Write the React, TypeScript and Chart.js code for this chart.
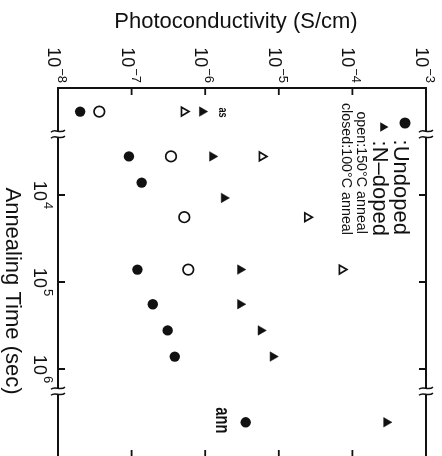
import React, { useEffect, useRef } from 'react';
import { Chart, registerables } from 'chart.js';

Chart.register(...registerables);

// Axis ticks (exponents of 10)
const sigmaTickExponents = [-8, -7, -6, -5, -4, -3];
const timeTickExponents = [4, 5, 6];

// Broken time axis: positions of the as-deposited and post-anneal groups, and the breaks
const AS_DEPOSITED_T = 1.1e3;
const ANNEALED_T = 4.1e6;
const BREAK_LOW_T = 2.0e3;
const BREAK_HIGH_T = 1.8e6;
const TIME_MIN = 589;
const TIME_MAX = 1e7;
const SIGMA_MIN = 1e-8;
const SIGMA_MAX = 1e-3;

// Undoped, closed symbols: 100°C anneal
const undopedClosedTime = [AS_DEPOSITED_T, 3600, 7200, 72000, 180000, 360000, 720000, ANNEALED_T];
const undopedClosedSigma = [2.0e-8, 9.2e-8, 1.37e-7, 1.2e-7, 1.94e-7, 3.09e-7, 3.86e-7, 3.55e-6];
// Undoped, open symbols: 150°C anneal
const undopedOpenTime = [AS_DEPOSITED_T, 3600, 18000, 72000];
const undopedOpenSigma = [3.64e-8, 3.43e-7, 5.2e-7, 5.89e-7];
// N-doped, closed symbols: 100°C anneal
const nDopedClosedTime = [AS_DEPOSITED_T, 3600, 10800, 72000, 180000, 360000, 720000, ANNEALED_T];
const nDopedClosedSigma = [9.1e-7, 1.25e-6, 1.8e-6, 3.0e-6, 3.0e-6, 5.7e-6, 8.3e-6, 2.9e-4];
// N-doped, open symbols: 150°C anneal
const nDopedOpenTime = [AS_DEPOSITED_T, 3600, 18000, 72000];
const nDopedOpenSigma = [5.15e-7, 5.9e-6, 2.44e-5, 7.2e-5];

const FONT = '"Liberation Sans", Arial, Helvetica, sans-serif';
const INK = '#111';

function pts(times: number[], sigmas: number[]) {
  return times.map((t, i) => ({ x: sigmas[i], y: t }));
}

function drawRot(ctx: CanvasRenderingContext2D, text: string, x: number, y: number, font: string, align: CanvasTextAlign, sx = 1) {
  ctx.save();
  ctx.translate(x, y);
  ctx.rotate(Math.PI / 2);
  ctx.scale(sx, 1);
  ctx.font = font;
  ctx.textAlign = align;
  ctx.textBaseline = 'alphabetic';
  ctx.fillText(text, 0, 0);
  ctx.restore();
}

function drawPow(ctx: CanvasRenderingContext2D, x: number, y: number, exp: number, anchor: 'end' | 'center') {
  ctx.save();
  ctx.translate(x, y);
  ctx.rotate(Math.PI / 2);
  const base = '10';
  const expStr = exp < 0 ? '\u2212' + Math.abs(exp) : String(exp);
  const mainFont = `18px ${FONT}`;
  const supFont = `13px ${FONT}`;
  ctx.font = mainFont;
  const w1 = ctx.measureText(base).width;
  ctx.font = supFont;
  const w2 = ctx.measureText(expStr).width;
  const gap = 1;
  const total = w1 + gap + w2;
  const x0 = anchor === 'end' ? -total : -total / 2;
  ctx.textAlign = 'left';
  ctx.textBaseline = 'alphabetic';
  ctx.font = mainFont;
  ctx.fillText(base, x0, 0);
  ctx.font = supFont;
  ctx.fillText(expStr, x0 + w1 + gap, -10);
  ctx.restore();
}

function drawBreak(ctx: CanvasRenderingContext2D, x: number, y: number) {
  ctx.save();
  ctx.fillStyle = '#fff';
  ctx.fillRect(x - 3, y - 3, 6, 6);
  ctx.strokeStyle = INK;
  ctx.lineWidth = 1.5;
  for (const off of [-3, 3]) {
    ctx.beginPath();
    ctx.moveTo(x - 7, y + off + 1);
    ctx.bezierCurveTo(x - 3, y + off - 3, x + 2, y + off + 3, x + 7, y + off - 1);
    ctx.stroke();
  }
  ctx.restore();
}

const overlay = {
  id: 'overlay',
  beforeDraw(chart: any) {
    const ctx = chart.ctx as CanvasRenderingContext2D;
    ctx.save();
    ctx.fillStyle = '#fff';
    ctx.fillRect(0, 0, chart.width, chart.height);
    ctx.restore();
  },
  afterDraw(chart: any) {
    const ctx = chart.ctx as CanvasRenderingContext2D;
    const ca = chart.chartArea;
    const xs = chart.scales.x;
    const ys = chart.scales.y;
    const L = ca.left, R = ca.right, T = ca.top, B = ca.bottom + 2;
    ctx.save();
    ctx.strokeStyle = INK;
    ctx.fillStyle = INK;
    ctx.lineWidth = 2;
    // frame
    ctx.beginPath();
    ctx.moveTo(L, B);
    ctx.lineTo(L, T);
    ctx.lineTo(R, T);
    ctx.lineTo(R, B);
    ctx.lineTo(L, B);
    ctx.stroke();
    // inward ticks along photoconductivity axis (top & bottom)
    ctx.lineWidth = 1.8;
    for (const e of sigmaTickExponents) {
      if (e === -8 || e === -3) continue;
      const px = xs.getPixelForValue(Math.pow(10, e));
      ctx.beginPath();
      ctx.moveTo(px, T);
      ctx.lineTo(px, T + 7);
      ctx.moveTo(px, B);
      ctx.lineTo(px, B - 8);
      ctx.stroke();
    }
    // inward ticks along time axis (left & right)
    for (const e of timeTickExponents) {
      const py = ys.getPixelForValue(Math.pow(10, e));
      ctx.beginPath();
      ctx.moveTo(L, py);
      ctx.lineTo(L + 7, py);
      ctx.moveTo(R, py);
      ctx.lineTo(R - 7, py);
      ctx.stroke();
    }
    // axis breaks
    for (const b of [BREAK_LOW_T, BREAK_HIGH_T]) {
      const py = ys.getPixelForValue(b);
      drawBreak(ctx, L, py);
      drawBreak(ctx, R, py);
    }
    // photoconductivity tick labels
    for (const e of sigmaTickExponents) {
      const px = xs.getPixelForValue(Math.pow(10, e));
      drawPow(ctx, px - 10, T - 5, e, 'end');
    }
    // time tick labels
    for (const e of timeTickExponents) {
      const py = ys.getPixelForValue(Math.pow(10, e));
      drawPow(ctx, L - 24, py, e, 'center');
    }
    // axis titles
    ctx.font = `22px ${FONT}`;
    ctx.textAlign = 'center';
    ctx.textBaseline = 'alphabetic';
    ctx.fillText('Photoconductivity (S/cm)', 236, 28);
    drawRot(ctx, 'Annealing Time (sec)', 6, 291, `22px ${FONT}`, 'center');
    // group annotations
    const asY = ys.getPixelForValue(AS_DEPOSITED_T);
    const annY = ys.getPixelForValue(ANNEALED_T);
    drawRot(ctx, 'as', 219, asY + 1, `bold 13px ${FONT}`, 'center', 0.7);
    drawRot(ctx, 'ann', 215.5, annY - 2, `bold 21px ${FONT}`, 'center', 0.7);
    // legend
    ctx.beginPath();
    ctx.arc(405, 123, 5.5, 0, Math.PI * 2);
    ctx.fill();
    ctx.beginPath();
    const tx = 383, ty = 127, tr = 5.5;
    ctx.moveTo(tx + tr, ty);
    ctx.lineTo(tx - tr / 2, ty - tr * 0.866);
    ctx.lineTo(tx - tr / 2, ty + tr * 0.866);
    ctx.closePath();
    ctx.fill();
    drawRot(ctx, ':Undoped', 394, 235, `22px ${FONT}`, 'right');
    drawRot(ctx, ':N\u2013doped', 373, 236, `22px ${FONT}`, 'right');
    drawRot(ctx, 'open:150\u00B0C anneal', 357, 234, `14.3px ${FONT}`, 'right');
    drawRot(ctx, 'closed:100\u00B0C anneal', 342, 235, `14.3px ${FONT}`, 'right');
    ctx.restore();
  },
};

export default function App() {
  const canvasRef = useRef<HTMLCanvasElement | null>(null);

  useEffect(() => {
    const canvas = canvasRef.current;
    if (!canvas) return;
    const chart = new Chart(canvas, {
      type: 'scatter',
      data: {
        datasets: [
          {
            label: 'Undoped, 100°C anneal',
            data: pts(undopedClosedTime, undopedClosedSigma),
            pointStyle: 'circle',
            pointRadius: 5.2,
            backgroundColor: INK,
            borderColor: INK,
            borderWidth: 0,
          },
          {
            label: 'Undoped, 150°C anneal',
            data: pts(undopedOpenTime, undopedOpenSigma),
            pointStyle: 'circle',
            pointRadius: 5.3,
            backgroundColor: '#fff',
            borderColor: INK,
            borderWidth: 1.7,
          },
          {
            label: 'N-doped, 100°C anneal',
            data: pts(nDopedClosedTime, nDopedClosedSigma),
            pointStyle: 'triangle',
            rotation: 90,
            pointRadius: 5.5,
            backgroundColor: INK,
            borderColor: INK,
            borderWidth: 0.5,
          },
          {
            label: 'N-doped, 150°C anneal',
            data: pts(nDopedOpenTime, nDopedOpenSigma),
            pointStyle: 'triangle',
            rotation: 90,
            pointRadius: 5,
            backgroundColor: '#fff',
            borderColor: INK,
            borderWidth: 1.7,
          },
        ],
      },
      options: {
        responsive: false,
        animation: false,
        events: [],
        layout: { autoPadding: false, padding: { left: 58, right: 16, top: 88, bottom: 0 } },
        plugins: { legend: { display: false }, tooltip: { enabled: false }, title: { display: false } },
        scales: {
          x: { type: 'logarithmic', min: SIGMA_MIN, max: SIGMA_MAX, display: false },
          y: { type: 'logarithmic', min: TIME_MIN, max: TIME_MAX, reverse: true, display: false },
        },
      },
      plugins: [overlay],
    } as any);
    return () => chart.destroy();
  }, []);

  return (
    <div style={{ position: 'fixed', left: 0, top: 0, width: 442, height: 456, overflow: 'hidden', background: '#fff' }}>
      <canvas ref={canvasRef} width={442} height={456} style={{ display: 'block', width: 442, height: 456 }} />
    </div>
  );
}
